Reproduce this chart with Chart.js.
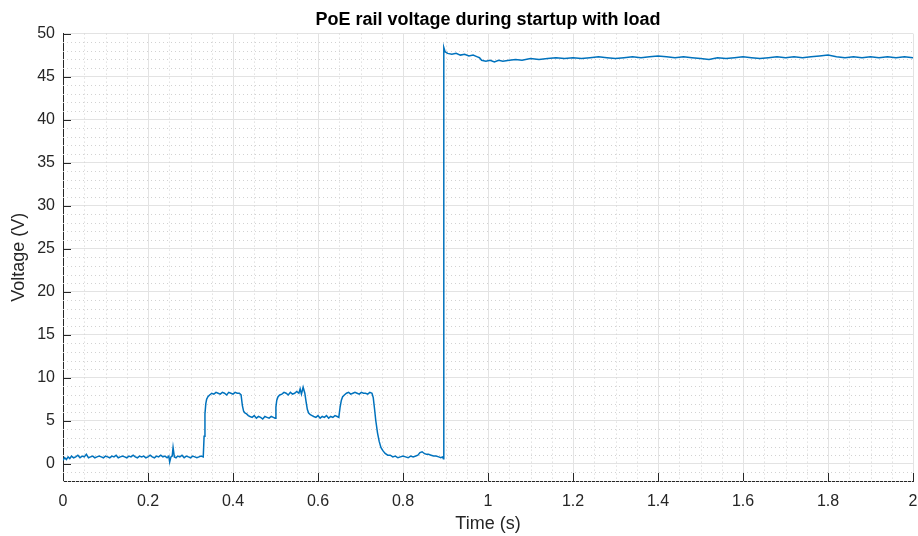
<!DOCTYPE html>
<html>
<head>
<meta charset="utf-8">
<title>PoE rail voltage during startup with load</title>
<script src="https://cdn.jsdelivr.net/npm/chart.js@4.4.1/dist/chart.umd.min.js"></script>
<style>
  html, body { margin: 0; padding: 0; background: #fff; }
  #wrap { width: 918px; height: 536px; position: relative; }
</style>
</head>
<body>
<div id="wrap"><canvas id="chart"></canvas></div>
<script>
// ── Data ────────────────────────────────────────────────────────────────────
// Idle / classification phase, 0 – 0.33 s
const idleT = [0.000, 0.004, 0.008, 0.012, 0.016, 0.020, 0.025, 0.030, 0.035, 0.040,
               0.045, 0.050, 0.055, 0.060, 0.065, 0.070, 0.075, 0.080, 0.085, 0.090,
               0.095, 0.100, 0.105, 0.110, 0.115, 0.120, 0.125, 0.130, 0.135, 0.140,
               0.145, 0.150, 0.155, 0.160, 0.165, 0.170, 0.175, 0.180, 0.185, 0.190,
               0.195, 0.200, 0.205, 0.210, 0.215, 0.220, 0.225, 0.230, 0.235, 0.240,
               0.245, 0.249, 0.251, 0.254, 0.257, 0.259, 0.262, 0.266, 0.270, 0.275,
               0.280, 0.285, 0.290, 0.295, 0.300, 0.305, 0.310, 0.315, 0.320, 0.325, 0.330];
const idleV = [0.4, 0.7, 0.5, 0.8, 0.6, 0.9, 0.7, 0.8, 1.0, 0.7,
               0.9, 0.8, 1.1, 0.7, 0.8, 0.9, 0.7, 0.8, 0.9, 0.8,
               0.7, 0.9, 0.8, 0.7, 0.9, 0.8, 1.0, 0.7, 0.8, 0.9,
               0.8, 0.7, 0.9, 0.8, 1.0, 0.8, 0.7, 0.9, 0.8, 0.9,
               0.7, 0.8, 1.0, 0.8, 0.7, 0.9, 0.8, 1.0, 0.8, 0.9,
               0.7, 0.9, 0.2, 0.8, 0.9, 1.9, 0.8, 0.7, 0.9, 0.8,
               1.0, 0.7, 0.9, 0.8, 0.7, 0.9, 0.8, 0.7, 0.8, 0.9, 0.8];

// Inrush steps, 0.33 – 0.895 s
const stepT = [0.332, 0.334, 0.336, 0.338, 0.341, 0.345, 0.350, 0.355, 0.360, 0.365,
               0.370, 0.375, 0.380, 0.385, 0.390, 0.395, 0.400, 0.405, 0.410, 0.415,
               0.419, 0.422, 0.425, 0.428, 0.432, 0.436, 0.440, 0.445, 0.450, 0.455,
               0.460, 0.465, 0.470, 0.475, 0.480, 0.485, 0.490, 0.495, 0.499, 0.501,
               0.503, 0.506, 0.510, 0.515, 0.520, 0.525, 0.530, 0.535, 0.540, 0.545,
               0.550, 0.555, 0.558, 0.561, 0.565, 0.569, 0.572, 0.575, 0.578, 0.582,
               0.586, 0.590, 0.595, 0.600, 0.605, 0.610, 0.615, 0.620, 0.625, 0.630,
               0.635, 0.640, 0.645, 0.649, 0.652, 0.655, 0.658, 0.662, 0.667, 0.672,
               0.677, 0.682, 0.687, 0.692, 0.697, 0.702, 0.707, 0.712, 0.717, 0.722,
               0.727, 0.730, 0.733, 0.736, 0.740, 0.744, 0.748, 0.753, 0.758, 0.764,
               0.770, 0.776, 0.782, 0.788, 0.794, 0.800, 0.806, 0.812, 0.818, 0.824,
               0.830, 0.835, 0.840, 0.845, 0.850, 0.855, 0.860, 0.866, 0.872, 0.878,
               0.884, 0.889, 0.893, 0.895];
const stepV = [3.2, 5.8, 7.0, 7.5, 7.8, 8.0, 8.2, 8.1, 8.3, 8.2,
               8.1, 8.3, 8.2, 8.0, 8.3, 8.2, 8.1, 8.3, 8.2, 8.2,
               8.0, 6.8, 6.1, 5.9, 5.8, 5.6, 5.5, 5.4, 5.6, 5.3,
               5.5, 5.4, 5.2, 5.5, 5.4, 5.3, 5.5, 5.4, 5.3, 6.6,
               7.4, 7.8, 8.0, 8.1, 8.3, 8.2, 8.0, 8.3, 8.1, 8.2,
               8.4, 8.2, 8.7, 8.1, 8.9, 8.2, 7.2, 6.3, 5.9, 5.7,
               5.6, 5.5, 5.4, 5.6, 5.3, 5.5, 5.4, 5.6, 5.3, 5.5,
               5.4, 5.6, 5.5, 5.4, 6.6, 7.4, 7.8, 8.0, 8.2, 8.3,
               8.1, 8.2, 8.3, 8.2, 8.1, 8.3, 8.2, 8.2, 8.1, 8.3,
               8.2, 7.7, 6.4, 5.0, 3.6, 2.6, 1.9, 1.5, 1.2, 1.0,
               1.0, 0.8, 0.9, 0.7, 0.8, 0.9, 0.8, 0.7, 0.9, 0.8,
               0.9, 1.0, 1.3, 1.4, 1.2, 1.1, 1.1, 1.0, 0.9, 0.9,
               0.8, 0.7, 0.8, 0.6];

// Powered phase, 0.896 – 2 s
const runT = [0.896, 0.899, 0.905, 0.915, 0.925, 0.935, 0.945, 0.955, 0.965, 0.975,
              0.980, 0.985, 0.995, 1.005, 1.015, 1.025, 1.035, 1.050, 1.065, 1.080,
              1.100, 1.120, 1.140, 1.160, 1.180, 1.200, 1.220, 1.240, 1.260, 1.280,
              1.300, 1.320, 1.340, 1.360, 1.380, 1.400, 1.420, 1.440, 1.460, 1.480,
              1.500, 1.520, 1.540, 1.560, 1.580, 1.600, 1.620, 1.640, 1.660, 1.680,
              1.700, 1.720, 1.740, 1.760, 1.780, 1.800, 1.820, 1.840, 1.860, 1.880,
              1.900, 1.920, 1.940, 1.960, 1.980, 2.000];
const runV = [48.4, 47.9, 47.7, 47.6, 47.7, 47.5, 47.6, 47.4, 47.5, 47.3,
              47.2, 46.9, 46.8, 46.9, 46.7, 46.9, 46.8, 46.9, 47.0, 46.9,
              47.1, 47.0, 47.1, 47.2, 47.1, 47.2, 47.1, 47.2, 47.3, 47.2,
              47.1, 47.2, 47.3, 47.2, 47.3, 47.4, 47.3, 47.2, 47.3, 47.2,
              47.1, 47.0, 47.2, 47.1, 47.2, 47.3, 47.2, 47.1, 47.2, 47.3,
              47.2, 47.3, 47.2, 47.3, 47.4, 47.5, 47.3, 47.2, 47.3, 47.2,
              47.3, 47.2, 47.3, 47.2, 47.3, 47.2];

const xTicks = [0, 0.2, 0.4, 0.6, 0.8, 1, 1.2, 1.4, 1.6, 1.8, 2];
const yTicks = [0, 5, 10, 15, 20, 25, 30, 35, 40, 45, 50];
const xMinorStep = 0.05;
const yMinorStep = 1;

// ── Build series ────────────────────────────────────────────────────────────
const allT = idleT.concat(stepT, runT);
const allV = idleV.concat(stepV, runV);
const points = allT.map((t, i) => ({ x: t, y: allV[i] }));

const AXIS = '#262626';
const GRID = '#e3e3e3';
const FONT = '"Liberation Sans", Arial, Helvetica, sans-serif';

// minor dotted grid + inward MATLAB-style tick marks
const matlabAxes = {
  id: 'matlabAxes',
  beforeDatasetsDraw(chart) {
    const { ctx, chartArea: a, scales: { x, y } } = chart;
    ctx.save();
    ctx.strokeStyle = '#d2d2d2';
    ctx.lineWidth = 1;
    ctx.setLineDash([1, 3]);
    for (let v = x.min; v <= x.max + 1e-9; v += xMinorStep) {
      if (xTicks.some(t => Math.abs(t - v) < 1e-6)) continue;
      const px = Math.round(x.getPixelForValue(v)) + 0.5;
      ctx.beginPath(); ctx.moveTo(px, a.top); ctx.lineTo(px, a.bottom); ctx.stroke();
    }
    for (let v = Math.ceil(y.min); v <= y.max + 1e-9; v += yMinorStep) {
      if (yTicks.includes(v)) continue;
      const py = Math.round(y.getPixelForValue(v)) + 0.5;
      ctx.beginPath(); ctx.moveTo(a.left, py); ctx.lineTo(a.right, py); ctx.stroke();
    }
    ctx.restore();
  },
  afterDraw(chart) {
    const { ctx, chartArea: a, scales: { x, y } } = chart;
    ctx.save();
    ctx.strokeStyle = AXIS;
    ctx.lineWidth = 1;
    xTicks.forEach(v => {
      const px = Math.round(x.getPixelForValue(v)) + 0.5;
      ctx.beginPath(); ctx.moveTo(px, a.bottom); ctx.lineTo(px, a.bottom - 8); ctx.stroke();
    });
    yTicks.forEach(v => {
      const py = Math.round(y.getPixelForValue(v)) + 0.5;
      ctx.beginPath(); ctx.moveTo(a.left, py); ctx.lineTo(a.left + 8, py); ctx.stroke();
    });
    ctx.restore();
  }
};

new Chart(document.getElementById('chart'), {
  type: 'line',
  data: {
    datasets: [{
      data: points,
      borderColor: '#0072BD',
      borderWidth: 1.5,
      pointRadius: 0,
      tension: 0,
      fill: false,
    }]
  },
  options: {
    responsive: true,
    maintainAspectRatio: false,
    animation: false,
    layout: { padding: { left: 0, right: 5, top: 0, bottom: 0 } },
    plugins: {
      legend: { display: false },
      tooltip: { enabled: false },
      title: {
        display: true,
        text: 'PoE rail voltage during startup with load',
        fullSize: false,
        color: '#000',
        font: { family: FONT, size: 18, weight: 'bold' },
        padding: { top: 9, bottom: 3 },
      },
    },
    scales: {
      x: {
        type: 'linear',
        min: 0, max: 2,
        afterBuildTicks: s => { s.ticks = xTicks.map(v => ({ value: v })); },
        afterFit: s => { s.height = 55; s.paddingLeft = 0; s.paddingRight = 0; },
        grid: { color: GRID, drawTicks: false },
        border: { color: AXIS, width: 1 },
        ticks: { color: AXIS, padding: 11, maxRotation: 0, font: { family: FONT, size: 16 },
                 callback: v => String(v) },
        title: { display: true, text: 'Time (s)', color: AXIS, padding: { top: 4, bottom: 1 },
                 font: { family: FONT, size: 18 } },
      },
      y: {
        min: -2, max: 50,
        afterBuildTicks: s => { s.ticks = yTicks.map(v => ({ value: v })); },
        afterFit: s => { s.width = 63; s.paddingTop = 0; s.paddingBottom = 0; },
        grid: { color: GRID, drawTicks: false },
        border: { color: AXIS, width: 1 },
        ticks: { color: AXIS, padding: 8, font: { family: FONT, size: 16 },
                 callback: v => String(v) },
        title: { display: true, text: 'Voltage (V)', color: AXIS, padding: { top: 8, bottom: 0 },
                 font: { family: FONT, size: 18 } },
      },
    },
  },
  plugins: [matlabAxes],
});
</script>
</body>
</html>
